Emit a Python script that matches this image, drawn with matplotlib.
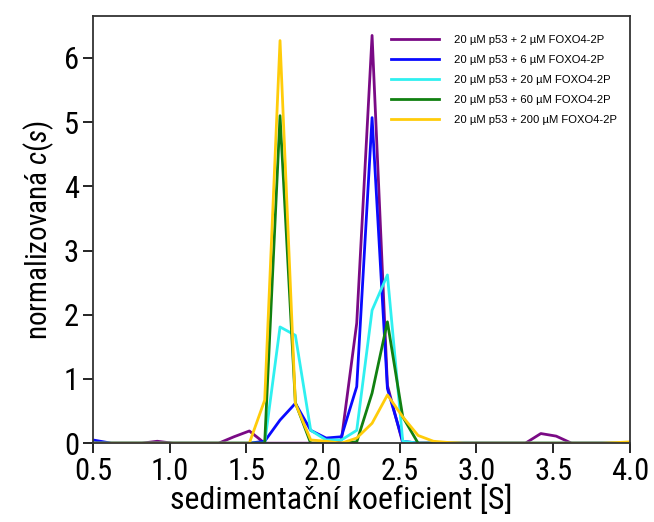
import numpy as np
import matplotlib
matplotlib.use("Agg")
import matplotlib.pyplot as plt

plt.rcParams['font.family'] = ['Roboto Condensed', 'DejaVu Sans']
plt.rcParams['mathtext.fontset'] = 'custom'
plt.rcParams['mathtext.it'] = 'Roboto Condensed:italic'
plt.rcParams['mathtext.rm'] = 'Roboto Condensed'

# sedimentation coefficient grid [S]
s = [0.50, 0.62, 0.72, 0.82, 0.92, 1.02, 1.12, 1.22, 1.32, 1.42, 1.52, 1.62,
     1.72, 1.82, 1.92, 2.02, 2.12, 2.22, 2.32, 2.42, 2.52, 2.62, 2.72, 2.82,
     2.92, 3.02, 3.12, 3.22, 3.32, 3.42, 3.52, 3.62, 3.72, 3.82, 3.92, 4.00]

c_2 = [0.00, 0.00, 0.00, 0.00, 0.03, 0.00, 0.00, 0.00, 0.00, 0.10, 0.19, 0.00,
       0.00, 0.00, 0.00, 0.00, 0.05, 1.87, 6.35, 0.90, 0.00, 0.00, 0.00, 0.00,
       0.00, 0.00, 0.00, 0.00, 0.00, 0.15, 0.11, 0.00, 0.00, 0.00, 0.00, 0.00]
c_6 = [0.05, 0.00, 0.00, 0.00, 0.00, 0.00, 0.00, 0.00, 0.00, 0.00, 0.00, 0.03,
       0.36, 0.62, 0.20, 0.08, 0.10, 0.88, 5.07, 0.85, 0.03, 0.00, 0.00, 0.00,
       0.00, 0.00, 0.00, 0.00, 0.00, 0.00, 0.00, 0.00, 0.00, 0.00, 0.00, 0.00]
c_20 = [0.00, 0.00, 0.00, 0.00, 0.00, 0.00, 0.00, 0.00, 0.00, 0.00, 0.00, 0.00,
        1.81, 1.68, 0.20, 0.05, 0.05, 0.20, 2.07, 2.62, 0.03, 0.00, 0.00, 0.00,
        0.00, 0.00, 0.00, 0.00, 0.00, 0.00, 0.00, 0.00, 0.00, 0.00, 0.00, 0.00]
c_60 = [0.00, 0.00, 0.00, 0.00, 0.00, 0.00, 0.00, 0.00, 0.00, 0.00, 0.00, 0.00,
        5.10, 0.63, 0.00, 0.00, 0.00, 0.02, 0.78, 1.89, 0.41, 0.00, 0.00, 0.00,
        0.00, 0.00, 0.00, 0.00, 0.00, 0.00, 0.00, 0.00, 0.00, 0.00, 0.00, 0.01]
c_200 = [0.00, 0.00, 0.00, 0.00, 0.00, 0.00, 0.00, 0.00, 0.00, 0.00, 0.00, 0.67,
         6.27, 0.62, 0.05, 0.03, 0.00, 0.08, 0.31, 0.75, 0.41, 0.12, 0.03, 0.01,
         0.00, 0.00, 0.00, 0.00, 0.00, 0.00, 0.00, 0.00, 0.00, 0.00, 0.01, 0.02]

labels = ["20 µM p53 + 2 µM FOXO4-2P",
          "20 µM p53 + 6 µM FOXO4-2P",
          "20 µM p53 + 20 µM FOXO4-2P",
          "20 µM p53 + 60 µM FOXO4-2P",
          "20 µM p53 + 200 µM FOXO4-2P"]
colors = ["#7a0a85", "#0a0aff", "#2ff0f0", "#118011", "#ffcc0a"]

fig = plt.figure(figsize=(6.54, 5.22), dpi=100)
ax = fig.add_axes([0.142, 0.151, 0.821, 0.818])

for y, lab, col in zip([c_2, c_6, c_20, c_60, c_200], labels, colors):
    ax.plot(s, y, color=col, lw=2.0, label=lab)

ax.set_xlim(0.5, 4.0)
ax.set_ylim(0, 6.65)
xt = np.arange(0.5, 4.01, 0.5)
ax.set_xticks(xt)
ax.set_xticklabels([f"{v:.1f}" for v in xt])
ax.set_yticks(range(7))
ax.tick_params(axis='both', direction='out', length=7, width=1.2, labelsize=22, pad=3)
for side in ['left', 'bottom', 'top', 'right']:
    ax.spines[side].set_linewidth(1.3)
    ax.spines[side].set_color('#333333')

ax.set_xlabel("sedimentační koeficient [S]", fontsize=23)
ax.xaxis.set_label_coords(0.463, -0.098)
ax.set_ylabel(r"normalizovaná $c(s)$", fontsize=21, labelpad=6)

ax.legend(loc='upper right', frameon=False,
          handlelength=4.3, handletextpad=1.3, labelspacing=0.9,
          prop={'family': ['Liberation Sans', 'DejaVu Sans'], 'size': 8.1},
          bbox_to_anchor=(0.995, 0.98))

fig.savefig("out.png", dpi=100)
